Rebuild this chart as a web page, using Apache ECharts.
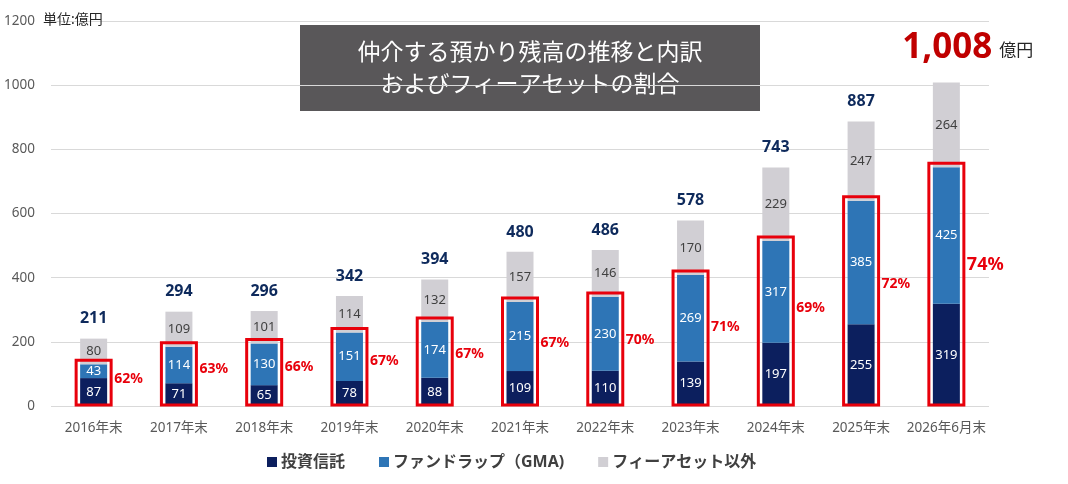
<!DOCTYPE html>
<html>
<head>
<meta charset="utf-8">
<script src="https://cdn.jsdelivr.net/npm/echarts@6/dist/echarts.min.js"></script>
<style>
html,body{margin:0;padding:0;background:#fff;}
#chart{width:1068px;height:484px;}
</style>
</head>
<body>
<div id="chart"></div>
<script>
const categories = ['2016年末','2017年末','2018年末','2019年末','2020年末','2021年末','2022年末','2023年末','2024年末','2025年末','2026年6月末'];
const investTrust = [87,71,65,78,88,109,110,139,197,255,319];
const fundWrap = [43,114,130,151,174,215,230,269,317,385,425];
const nonFee = [80,109,101,114,132,157,146,170,229,247,264];
const totals = [211,294,296,342,394,480,486,578,743,887,1008];
const feeRatio = [62,63,66,67,67,67,70,71,69,72,74];
const seriesNames = ['投資信託','ファンドラップ（GMA)','フィーアセット以外'];
const titleLines = ['仲介する預かり残高の推移と内訳','およびフィーアセットの割合'];
const unitText = '単位:億円';

const FONT = '"Noto Sans", "Noto Sans CJK JP", sans-serif';
const NAVY = '#0C1F5E', BLUE = '#2E75B6', GRAY = '#D1CFD4', RED = '#E8000B';

const chart = echarts.init(document.getElementById('chart'));
const last = categories.length - 1;

const customData = categories.map((c, i) => [i, investTrust[i] + fundWrap[i], feeRatio[i], totals[i]]);

function segLabel(color) {
  return {show: true, position: 'inside', color: color, fontSize: 13, fontFamily: FONT};
}

const option = {
  animation: false,
  textStyle: {fontFamily: FONT},
  grid: {left: 51, right: 79, top: 21, bottom: 78},
  legend: {
    data: seriesNames,
    top: 449, left: 262,
    icon: 'rect', itemWidth: 10, itemHeight: 10, itemGap: 34,
    textStyle: {fontSize: 16, fontWeight: 'bold', color: '#404040', fontFamily: FONT, padding: [0,0,0,-1]}
  },
  xAxis: {
    type: 'category', data: categories,
    axisLine: {show: false}, axisTick: {show: false},
    axisLabel: {interval: 0, color: '#595959', fontSize: 13.5, margin: 15, fontFamily: FONT}
  },
  yAxis: {
    type: 'value', min: 0, max: 1200, interval: 200,
    axisLine: {show: false}, axisTick: {show: false},
    axisLabel: {color: '#595959', fontSize: 13.5, margin: 16, fontFamily: FONT, formatter: v => String(v)},
    splitLine: {lineStyle: {color: '#D9D9D9', width: 1}}
  },
  series: [
    {name: seriesNames[0], type: 'bar', stack: 'a', barWidth: 27, data: investTrust,
     itemStyle: {color: NAVY}, label: segLabel('#ffffff')},
    {name: seriesNames[1], type: 'bar', stack: 'a', barWidth: 27, data: fundWrap,
     itemStyle: {color: BLUE}, label: segLabel('#ffffff')},
    {name: seriesNames[2], type: 'bar', stack: 'a', barWidth: 27, data: nonFee,
     itemStyle: {color: GRAY}, label: segLabel('#404040')},
    {type: 'custom', clip: false, z: 10, data: customData,
     encode: {x: 0, y: 1},
     renderItem: function (params, api) {
       const i = api.value(0);
       const top = api.value(1);
       const pct = api.value(2);
       const tot = api.value(3);
       const p0 = api.coord([i, 0]);
       const p1 = api.coord([i, top]);
       const pt = api.coord([i, tot]);
       const halfW = 17.5;
       const yTop = p1[1] - 4;
       const yBot = p0[1] - 1;
       const h = yBot - yTop;
       const isLast = i === last;
       const children = [
         {type: 'rect', shape: {x: p0[0] - halfW, y: yTop, width: 2 * halfW, height: h},
          style: {fill: 'none', stroke: RED, lineWidth: 3}},
         {type: 'text', x: p0[0] + halfW + 3, y: yBot - 0.58 * h,
          style: {text: pct + '%', fill: RED, fontSize: isLast ? 18 : 14, fontWeight: 'bold',
                  fontFamily: FONT, textAlign: 'left', textVerticalAlign: 'middle', verticalAlign: 'middle'}}
       ];
       if (!isLast) {
         children.push({type: 'text', x: p0[0], y: pt[1] - 20,
           style: {text: String(tot), fill: '#0E2A5C', fontSize: 16, fontWeight: 'bold', fontFamily: FONT,
                   textAlign: 'center', textVerticalAlign: 'middle', verticalAlign: 'middle'}});
       } else {
         children.push({type: 'text', x: p0[0] + 46, y: pt[1] - 35,
           style: {text: tot.toLocaleString('en-US'), fill: '#C00000', fontSize: 35, fontWeight: 'bold', fontFamily: FONT,
                   textAlign: 'right', textVerticalAlign: 'middle', verticalAlign: 'middle'}});
         children.push({type: 'text', x: p0[0] + 53, y: pt[1] - 31,
           style: {text: '億円', fill: '#262626', fontSize: 17, fontFamily: FONT,
                   textAlign: 'left', textVerticalAlign: 'middle', verticalAlign: 'middle'}});
       }
       return {type: 'group', children: children};
     }}
  ],
  graphic: [
    {type: 'text', left: 43, top: 13, z: 20,
     style: {text: unitText, fill: '#262626', fontSize: 14, fontFamily: FONT}},
    {type: 'group', left: 300, top: 25, z: 20, children: [
      {type: 'rect', shape: {x: 0, y: 0, width: 460, height: 86}, style: {fill: '#595759'}},
      {type: 'text', x: 230, y: 28, style: {text: titleLines[0], fill: '#ffffff', fontSize: 23, fontFamily: FONT,
        textAlign: 'center', textVerticalAlign: 'middle', verticalAlign: 'middle'}},
      {type: 'text', x: 230, y: 60, style: {text: titleLines[1], fill: '#ffffff', fontSize: 23, fontFamily: FONT,
        textAlign: 'center', textVerticalAlign: 'middle', verticalAlign: 'middle'}}
    ]}
  ]
};
chart.setOption(option);
</script>
</body>
</html>
